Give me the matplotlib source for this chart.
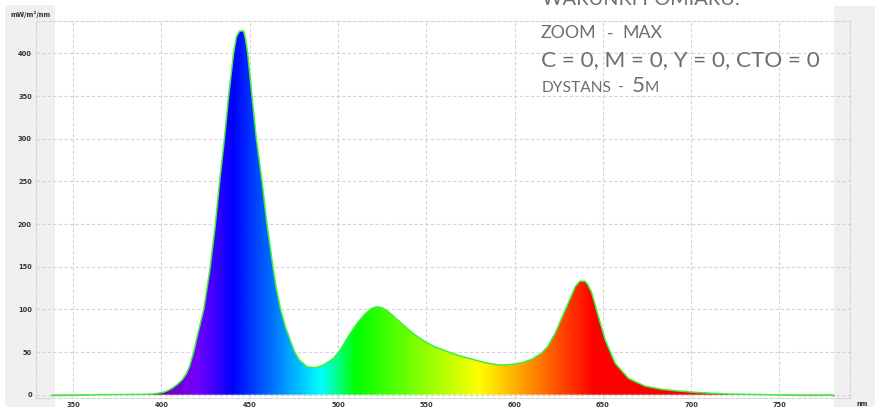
import numpy as np
import matplotlib
matplotlib.use("Agg")
import matplotlib.pyplot as plt
from matplotlib.colors import LinearSegmentedColormap
from matplotlib.patches import Polygon, Rectangle

# ---- data ----
wavelength = [338, 345, 355, 365, 375, 385, 390, 394.7, 400.3, 403, 406, 409, 411.7, 414,
              415.9, 418.3, 420.7, 424, 427.7, 430.6, 433, 435.7, 438.1, 440.9, 442.5,
              444.3, 446.6, 447.6, 448.9, 451.3, 453.8, 457, 459.8, 463.2, 464.9, 467.5,
              470.2, 473.6, 475.5, 478.1, 482.5, 486.2, 489, 491.9, 497.6, 501.5, 506,
              511, 515.5, 519, 522, 525, 528.7, 533, 538, 543, 549.4, 555, 560.7, 566,
              572, 578, 583.5, 591, 596, 600.4, 605, 609.8, 615.5, 619, 623, 628.7,
              634.4, 637, 640, 641.5, 643.8, 647.6, 651.4, 657, 664.6, 674, 683.5, 693,
              702.4, 711, 721, 730, 740, 750, 760, 770, 776, 779, 781]
irradiance = [-1, -1, -0.5, 0, 0.2, 0.4, 0.5, 0.8, 2.4, 4.2, 7.5, 12, 17.2, 24,
              32.8, 50, 72, 100, 150, 200, 250, 300, 350, 400, 419.6,
              426.2, 426.2, 417.6, 400, 350, 300, 250, 200, 150, 126.6, 100,
              79.7, 60.2, 50, 40.7, 32.8, 31.7, 32.5, 34.8, 42.6, 53, 68.8,
              84, 95, 101, 103, 102, 97, 89, 80, 71, 62, 56, 51.6, 47.5,
              43.8, 40.5, 37.5, 34.8, 35, 36, 38, 41.5, 49, 57, 72, 99,
              126.6, 133, 133, 129, 119, 91, 64, 36.8, 19, 10, 6.3, 4.3,
              2.8, 1.8, 0.8, 0.5, 0.2, -0.3, -0.8, -1, -0.8, -0.5, -1.5]
x_ticks = [350, 400, 450, 500, 550, 600, 650, 700, 750]
y_ticks = [0, 50, 100, 150, 200, 250, 300, 350, 400]
y_unit = "mW/m²/nm"
x_unit = "nm"
heading = "WARUNKI POMIARU:"
zoom_parts = ["ZOOM", "-", "MAX"]
cmy_line = "C = 0, M = 0, Y = 0, CTO = 0"
dist_parts = ["DYSTANS", "-", "5", "M"]

# ---- colour stops of the spectrum fill (style) ----
stop_wl = [380, 400, 420, 440, 490, 510, 580, 645, 700, 780]
stop_col = [(0.30, 0, 0.30), (0.45, 0, 0.68), (0.45, 0, 1.0), (0, 0, 1.0), (0, 1, 1),
            (0, 1, 0), (1, 1, 0), (1, 0, 0), (1, 0, 0), (0.35, 0, 0)]

W, H = 875, 407
fig = plt.figure(figsize=(W / 100, H / 100), dpi=100)
fig.patch.set_facecolor("white")

def fx(px):
    return px / W

def fy(py):
    return (H - py) / H

# grey side panels
for (x0, x1, y0) in [(5, 55, 5), (834, 875, 6)]:
    fig.patches.append(Rectangle((fx(x0), 0), fx(x1) - fx(x0), fy(y0), transform=fig.transFigure,
                                 facecolor="#f0f0f0", edgecolor="none", zorder=-10))

ax = fig.add_axes([fx(36), fy(397.7), fx(850) - fx(36), fy(21) - fy(397.7)])
ax.set_facecolor("none")
xmin, xmax, ymin, ymax = 329, 790, -3.5, 438
ax.set_xlim(xmin, xmax)
ax.set_ylim(ymin, ymax)

# spectrum fill with gradient
lo, hi = stop_wl[0], stop_wl[-1]
cmap = LinearSegmentedColormap.from_list(
    "spec", [((w - lo) / (hi - lo), c) for w, c in zip(stop_wl, stop_col)])
xs = np.linspace(xmin, xmax, 1200)
grad = np.clip((xs - lo) / (hi - lo), 0, 1)[None, :]
im = ax.imshow(grad, aspect="auto", cmap=cmap, vmin=0, vmax=1,
               extent=[xmin, xmax, ymin, ymax], origin="lower", zorder=2,
               interpolation="bilinear")
verts = [(wavelength[0], 0)] + list(zip(wavelength, irradiance)) + [(wavelength[-1], 0)]
poly = Polygon(verts, closed=True, facecolor="none", edgecolor="none", transform=ax.transData)
ax.add_patch(poly)
im.set_clip_path(poly)
ax.plot(wavelength, irradiance, color="#3cf03c", lw=1.1, zorder=3, solid_joinstyle="round")

# grid / spines
ax.set_xticks(x_ticks)
ax.set_yticks(y_ticks)
ax.grid(True, color="#d4d4d4", lw=0.8, linestyle=(0, (3, 2)), zorder=0)
ax.set_axisbelow(True)
for s in ax.spines.values():
    s.set_color("#d4d4d4")
    s.set_linewidth(0.8)
    s.set_linestyle((0, (3, 2)))
ax.tick_params(length=0, labelsize=4.8, labelcolor="#333333", pad=3)
for lab in ax.get_xticklabels() + ax.get_yticklabels():
    lab.set_fontweight("bold")

fig.text(fx(31), fy(15), y_unit, fontsize=4.8, fontweight="bold", color="#333333",
         ha="center", va="center")
fig.text(fx(862), fy(404.5), x_unit, fontsize=4.8, fontweight="bold", color="#333333",
         ha="center", va="center")

# overlay text
tc = "#6e6e6e"
fam = ["Lato", "DejaVu Sans"]
def put(px, py, s, size):
    fig.text(fx(px), fy(py), s, fontsize=size, color=tc, family=fam,
             fontweight="normal", va="baseline", ha="left")

put(542, 5, heading, 14.3)
put(541, 38.3, zoom_parts[0], 12.8)
put(607, 38.3, zoom_parts[1], 12.8)
put(622, 38.3, zoom_parts[2], 12.8)
put(541, 65.7, cmy_line, 16.2)
put(542, 91.7, dist_parts[0], 11.2)
put(618, 91.7, dist_parts[1], 11.2)
put(632, 91.7, dist_parts[2], 16.2)
put(644.5, 91.7, dist_parts[3], 11.2)

fig.savefig("out.png", dpi=100)
